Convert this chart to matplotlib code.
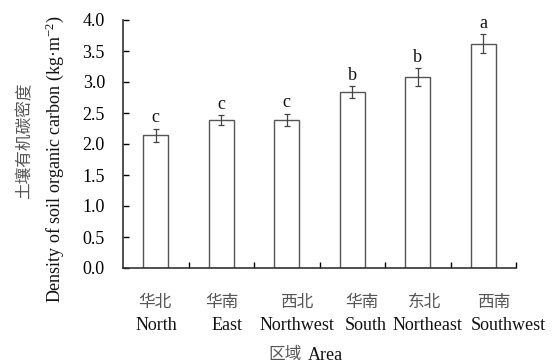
import matplotlib
matplotlib.use("Agg")
import matplotlib.pyplot as plt
import matplotlib.transforms as mtrans

regions_cn = ["华北", "华南", "西北", "华南", "东北", "西南"]
regions_en = ["North", "East", "Northwest", "South", "Northeast", "Southwest"]
density = [2.14, 2.38, 2.39, 2.84, 3.08, 3.62]
errors = [0.11, 0.08, 0.10, 0.09, 0.14, 0.15]
letters = ["c", "c", "c", "b", "b", "a"]
yticks = [0.0, 0.5, 1.0, 1.5, 2.0, 2.5, 3.0, 3.5, 4.0]

SERIF = ["Liberation Serif", "DejaVu Serif"]
CJK = ["Noto Sans CJK SC", "DejaVu Sans"]
plt.rcParams["font.family"] = SERIF
plt.rcParams["mathtext.fontset"] = "stix"

W, H = 555, 363
fig = plt.figure(figsize=(W / 100, H / 100), dpi=100)
ax = fig.add_axes([123 / W, 1 - 268 / H, (516 - 123) / W, (268 - 20) / H])

x = list(range(len(density)))
ax.bar(x, density, width=0.38, facecolor="white", edgecolor="#555555", linewidth=1.0, zorder=2)
ax.errorbar(x, density, yerr=errors, fmt="none", ecolor="#444444", elinewidth=0.9,
            capsize=2.5, capthick=0.9, zorder=3)
for xi, v, e, l in zip(x, density, errors, letters):
    ax.text(xi, v + e + 0.04, l, ha="center", va="bottom", fontsize=13, color="#111111")

ax.set_xlim(-0.5, len(density) - 0.5)
ax.set_ylim(0, 4.0)
ax.set_yticks(yticks)
ax.set_yticklabels([f"{t:.1f}" for t in yticks], fontsize=13)
ax.tick_params(axis="y", direction="in", length=4, width=1, pad=13)
ax.set_xticks([i + 0.5 for i in x])
ax.set_xticklabels([])
ax.tick_params(axis="x", direction="in", length=4, width=1)
for s in ["top", "right"]:
    ax.spines[s].set_visible(False)
for s in ["left", "bottom"]:
    ax.spines[s].set_color("#333333")
    ax.spines[s].set_linewidth(1.2)

tr = mtrans.blended_transform_factory(ax.transData, fig.transFigure)
cn_off = [-1, 1, 10, 10, 7, 10]
en_off = [1, 6, 10, 14, 10, 25]
for xi, cn, en, oc, oe in zip(x, regions_cn, regions_en, cn_off, en_off):
    ax.annotate(cn, (xi, 1 - 302 / H), xycoords=tr, xytext=(oc * 0.72, 0), textcoords="offset points",
                ha="center", va="center", fontsize=12, family=CJK, color="#555555")
    ax.annotate(en, (xi, 1 - 325 / H), xycoords=tr, xytext=(oe * 0.72, 0), textcoords="offset points",
                ha="center", va="center", fontsize=13, color="#111111", annotation_clip=False)

fig.text(302 / W, 1 - 355 / H, "区域", ha="right", va="center", fontsize=12, family=CJK, color="#555555")
fig.text(308 / W, 1 - 355 / H, "Area", ha="left", va="center", fontsize=13, color="#111111")

fig.text(25 / W, 1 - 141 / H, "土壤有机碳密度", rotation=90, ha="center", va="center",
         fontsize=12, family=CJK, color="#555555")
fig.text(55 / W, 1 - 159 / H, "Density of soil organic carbon (kg·m$^{\\mathregular{-2}}$)", rotation=90,
         ha="center", va="center", fontsize=13, color="#111111")

fig.savefig("out.png", dpi=100)
